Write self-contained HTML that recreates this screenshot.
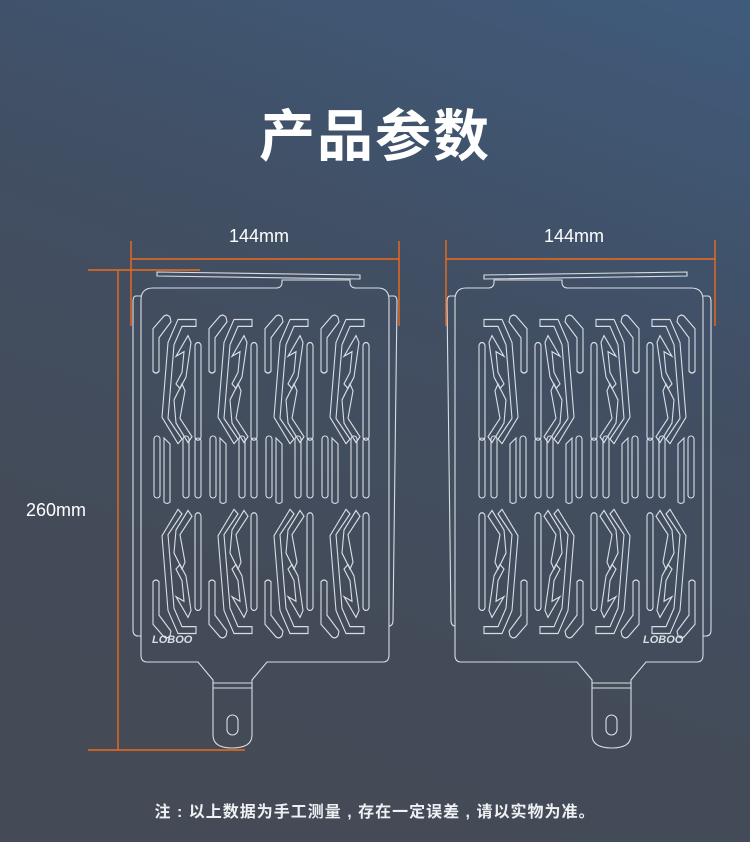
<!DOCTYPE html>
<html><head><meta charset="utf-8"><style>
html,body{margin:0;padding:0}
body{width:750px;height:842px;overflow:hidden;background:linear-gradient(200deg,#3f5b7c 0%,#414f64 35%,#434b58 70%,#444b56 100%);font-family:"Liberation Sans","Noto Sans CJK SC",sans-serif;position:relative}
.t{position:absolute;top:92px;left:0;width:750px;text-align:center;color:#fff;font-size:56px;font-weight:bold;letter-spacing:2px;font-family:"Noto Sans CJK SC",sans-serif}
.f{position:absolute;top:798px;left:0;width:750px;text-align:center;color:#eef0f3;font-size:16px;letter-spacing:1px;font-weight:bold}
.d{position:absolute;color:#fff;font-size:18px}
</style></head><body>
<div class="t">产品参数</div>
<div class="d" style="left:229px;top:226px">144mm</div>
<div class="d" style="left:544px;top:226px">144mm</div>
<div class="d" style="left:26px;top:500px">260mm</div>
<svg width="750" height="842" style="position:absolute;left:0;top:0" fill="none">
<defs>
<g id="m" stroke="#d9dee5" stroke-width="1.1">
<path d="M3,55 V18 L14,7 Q17,5 20,8 L21,12 L9,26 V55 Q6,58 3,55Z"/>
<path d="M12,95 L18,30 L28,10 L46,10 L46,16 L32,16 L24,32 L18,96 L32,114 L28,118 Z"/>
<path d="M26,42 L38,24 L41,30 L36,60 L30,70 L26,66 L32,56 L34,38 Z"/>
<path d="M24,80 L32,66 L35,72 L30,96 L42,112 L38,117 L26,100 Z"/>
<rect x="45" y="30" width="6" height="85" rx="3"/>
</g>
<g id="c">
<use href="#m" transform="scale(1,1.15)"/>
<use href="#m" transform="translate(0,337) scale(1,-1.15)"/>
<g stroke="#d9dee5" stroke-width="1.1">
<rect x="4" y="128" width="6" height="62" rx="3"/>
<path d="M14,130 L20,136 V194 Q17,197 14,194Z"/>
<rect x="33" y="128" width="6" height="62" rx="3"/>
<rect x="45" y="130" width="6" height="60" rx="3"/>
</g>
</g>
<g id="panel" stroke="#d9dee5" stroke-width="1.1">
<path d="M141,300 Q141,288 153,288 H276 Q282,288 282,282 V280 H350 V282 Q350,288 356,288 H378 Q389,288 389,300 V655 Q389,662 383,662 H267 L252,680 V735 Q252,748 232,748 Q213,748 213,735 V680 L198,662 H147 Q141,662 141,655 Z"/>
<path d="M157,272 L157,276 L360,279 L360,275 Z"/>
<path d="M213,683 H252 M213,688 H252"/>
<rect x="227" y="715" width="11" height="20" rx="5.5"/>
<path d="M141,296 H136 Q133,296 133,302 V630 Q133,636 138,636 H141"/>
<path d="M389,296 H394 Q397,296 397,302 L393,620 Q393,626 389,626"/>
</g>
</defs>
<use href="#panel"/>
<g transform="translate(150,308)"><use href="#c"/></g>
<g transform="translate(206,308)"><use href="#c"/></g>
<g transform="translate(262,308)"><use href="#c"/></g>
<g transform="translate(318,308)"><use href="#c"/></g>
<text x="152" y="643" fill="#d9dee5" font-size="11" font-style="italic" font-weight="bold">LOBOO</text>
<g transform="translate(844,0) scale(-1,1)"><use href="#panel"/></g>
<g transform="translate(530,308) scale(-1,1)"><use href="#c"/></g>
<g transform="translate(586,308) scale(-1,1)"><use href="#c"/></g>
<g transform="translate(642,308) scale(-1,1)"><use href="#c"/></g>
<g transform="translate(698,308) scale(-1,1)"><use href="#c"/></g>
<text x="643" y="643" fill="#d9dee5" font-size="11" font-style="italic" font-weight="bold">LOBOO</text>
<g stroke="#f06a1a" stroke-width="1.4">
<path d="M118,270 V750 M88,270 H200 M88,750 H245"/>
<path d="M131,241 V326 M399,241 V326 M131,259 H399"/>
<path d="M446,240 V326 M715,240 V326 M446,259 H715"/>
</g>
</svg>
<div class="f">注 : 以上数据为手工测量 , 存在一定误差 , 请以实物为准。</div>
</body></html>
